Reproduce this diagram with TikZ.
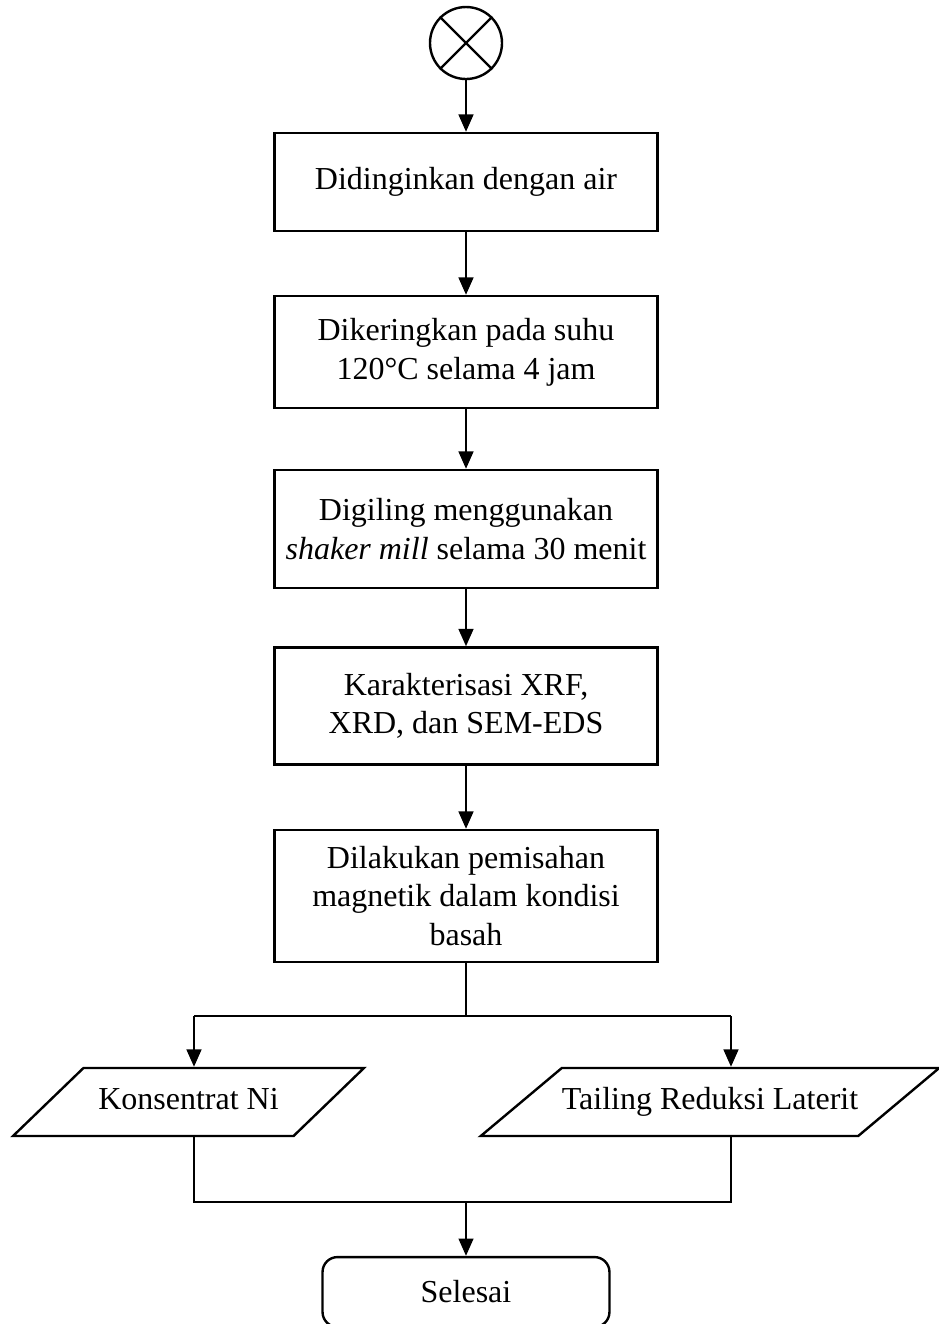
\documentclass[tikz,border=0pt]{standalone}
\usepackage{fontspec}
\setmainfont{Liberation Serif}
\usetikzlibrary{shapes.geometric,arrows.meta}

\begin{document}
\begin{tikzpicture}[x=0.375pt,y=-0.375pt,
    line width=0.9pt,
    font=\fontsize{12}{14.5}\selectfont,
    process/.style={draw, rectangle, minimum width=143.6pt, align=center, inner sep=0pt},
    io/.style={draw, trapezium, trapezium stretches body=true, inner xsep=0pt,
        inner ysep=7.5pt, text height=8pt, text depth=2.5pt},
    arr/.style={-{Triangle[length=6.5pt,width=5.5pt]}}]

% Frame
\useasboundingbox (0,0) rectangle (939,1324);

% Parameters
\def\xl{194}          % left branch
\def\xr{731}          % right branch

% Connector from previous page
\node[draw, circle, minimum size=27pt, inner sep=0pt] (start) at (466,43) {};
\draw (start.north west) -- (start.south east);
\draw (start.north east) -- (start.south west);

% Process steps
\node[process, minimum height=36.75pt] (cool) at (466,182) {Didinginkan dengan air};
\node[process, minimum height=42pt] (dry) at (466,352) {Dikeringkan pada suhu\\120°C selama 4 jam};
\node[process, minimum height=44.25pt] (mill) at (466,529) {Digiling menggunakan\\\textit{shaker mill} selama 30 menit};
\node[process, minimum height=43.9pt] (char) at (466,706) {Karakterisasi XRF,\\XRD, dan SEM-EDS};
\node[process, minimum height=49.5pt] (sep) at (466,896) {Dilakukan pemisahan\\magnetik dalam kondisi\\basah};

\draw[arr] (start) -- (cool);
\draw[arr] (cool) -- (dry);
\draw[arr] (dry) -- (mill);
\draw[arr] (mill) -- (char);
\draw[arr] (char) -- (sep);

% Products
\node[io, trapezium left angle=44, trapezium right angle=136, minimum width=131.6pt]
    (conc) at (188.5,1102) {Konsentrat Ni};
\node[io, trapezium left angle=40, trapezium right angle=140, minimum width=171pt]
    (tail) at (710,1102) {Tailing Reduksi Laterit};

\coordinate (split) at (466,1016);
\coordinate (bl) at (\xl,1016);
\coordinate (br) at (\xr,1016);
\draw (sep.south) -- (split);
\draw (bl) -- (br);
\draw[arr] (bl) -- (bl |- conc.north);
\draw[arr] (br) -- (br |- tail.north);

% Finish
\node[draw, rounded corners=5.6pt, minimum width=107.6pt, minimum height=26.2pt] (end) at (466,1292) {Selesai};

\coordinate (join) at (466,1202);
\draw (bl |- conc.south) |- (join) -| (br |- tail.south);
\draw[arr] (join) -- (end);

\end{tikzpicture}
\end{document}
